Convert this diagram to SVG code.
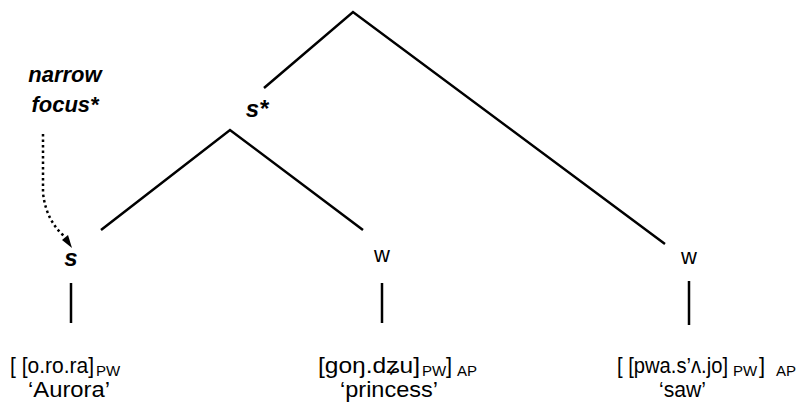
<svg xmlns="http://www.w3.org/2000/svg" width="808" height="408" viewBox="0 0 808 408">
<defs>
<style>
.t{font-family:"Liberation Sans",Arial,sans-serif;fill:#000}
.lab{font-size:22px}
.sub{font-size:15px}
.bi{font-weight:bold;font-style:italic}
.ln{stroke:#000;stroke-width:2.5;fill:none;stroke-linecap:butt}
.dot{stroke:#000;stroke-width:2.5;fill:none;stroke-dasharray:2.5 3}
</style>
</defs>
<rect width="808" height="408" fill="#fff"/>
<g id="connectors">
<path class="ln" d="M264,88 L353,12 L665,244"/>
<path class="ln" d="M101,230 L230,130 L363,230"/>
<line class="ln" x1="71" y1="283" x2="71" y2="323"/>
<line class="ln" x1="382" y1="283" x2="382" y2="323"/>
<line class="ln" x1="689" y1="281" x2="689" y2="325"/>
<path class="dot" d="M43,134 L43,193 Q46,220 64,236"/>
<path d="M62,240 L72,248 L68,235 z" fill="#000"/>
</g>
<g id="focus"><text class="t bi" font-size="22" x="65" y="82" text-anchor="middle">narrow</text><text class="t bi" font-size="22" x="65" y="112" text-anchor="middle">focus*</text></g>
<g id="sstar"><text class="t bi" font-size="24" x="257" y="117" text-anchor="middle">s*</text></g>
<g id="s"><text class="t bi" font-size="24" x="71" y="266" text-anchor="middle">s</text></g>
<g id="w1"><text class="t" font-size="22" x="382" y="262" text-anchor="middle">w</text></g>
<g id="w2"><text class="t" font-size="22" x="689" y="264" text-anchor="middle">w</text></g>
<g id="aurora">
<text class="t lab" x="10" y="373" textLength="84" lengthAdjust="spacingAndGlyphs">[ [o.ro.ra]</text>
<text class="t sub" x="96" y="376">PW</text>
<text class="t lab" x="28" y="397" font-size="21" textLength="82" lengthAdjust="spacingAndGlyphs">‘Aurora’</text>
</g>
<g id="princess">
<text class="t lab" x="318" y="373" textLength="102" lengthAdjust="spacingAndGlyphs">[goŋ.dʑu]</text>
<text class="t sub" x="422" y="376">PW</text>
<text class="t lab" x="446" y="373">]</text>
<text class="t sub" x="457" y="376">AP</text>
<text class="t lab" x="340" y="397" font-size="21" textLength="98" lengthAdjust="spacingAndGlyphs">‘princess’</text>
</g>
<g id="saw">
<text class="t lab" x="617" y="373" textLength="111" lengthAdjust="spacingAndGlyphs">[ [pwa.s’ʌ.jo]</text>
<text class="t sub" x="733" y="376">PW</text>
<text class="t lab" x="759" y="373">]</text>
<text class="t sub" x="776" y="376">AP</text>
<text class="t lab" x="659" y="397" font-size="21" textLength="47" lengthAdjust="spacingAndGlyphs">‘saw’</text>
</g>
</svg>
